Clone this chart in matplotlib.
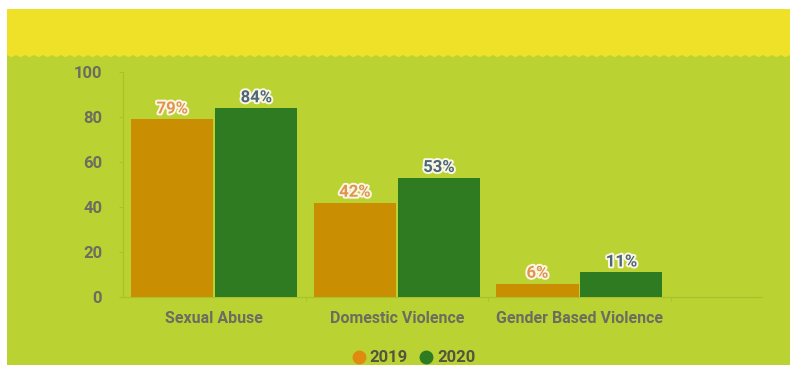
import matplotlib
matplotlib.use("Agg")
import matplotlib.pyplot as plt
import matplotlib.patheffects as pe
from matplotlib.patches import Rectangle, Polygon
from matplotlib.lines import Line2D
import numpy as np

categories = ["Sexual Abuse", "Domestic Violence", "Gender Based Violence"]
years = ["2019", "2020"]
values_2019 = [79, 42, 6]
values_2020 = [84, 53, 11]
y_ticks = [0, 20, 40, 60, 80, 100]

W, H = 790, 367
YELLOW = "#EFE127"
BG_GREEN = "#BAD333"
ORANGE = "#C98E02"
DARK_GREEN = "#2F7B22"
TICK_GREY = "#6C6D5E"
LABEL_2019 = "#E0944E"
LABEL_2020 = "#4C6878"

FAMILY = ["Roboto", "DejaVu Sans"]
FONT = dict(family=FAMILY, weight="bold")

fig = plt.figure(figsize=(W / 100, H / 100), dpi=100, facecolor="white")

def fx(px):
    return px / W

def fy(py):
    return 1 - py / H

# green panel
fig.patches.append(Rectangle((fx(7), fy(365)), fx(790 - 7), (365 - 9) / H,
                             transform=fig.transFigure, facecolor=BG_GREEN,
                             edgecolor="none", zorder=-2))
# yellow header band with a serrated lower edge
xs = np.arange(7, 791, 4.5)
edge = [(x, 55 + (2.2 if i % 2 else 0)) for i, x in enumerate(xs)]
pts = [(7, 9), (790, 9)] + [(790, 55)] + edge[::-1]
pts = [(fx(x), fy(y)) for x, y in pts]
fig.patches.append(Polygon(pts, closed=True, transform=fig.transFigure,
                           facecolor=YELLOW, edgecolor="none", zorder=-1))

ax = fig.add_axes([fx(123), 1 - 297 / H, fx(762 - 123), (297 - 72) / H])
ax.set_facecolor("none")
ax.set_zorder(5)

x = np.arange(len(categories))
w = 0.45
off = 0.23
b1 = ax.bar(x - off, values_2019, w, color=ORANGE, zorder=3)
b2 = ax.bar(x + off, values_2020, w, color=DARK_GREEN, zorder=3)

stroke = [pe.withStroke(linewidth=2.8, foreground="#FBF6E6")]
for bars, vals, col in ((b1, values_2019, LABEL_2019), (b2, values_2020, LABEL_2020)):
    for rect, v in zip(bars, vals):
        ax.annotate(f"{v}%", (rect.get_x() + rect.get_width() / 2, v),
                    xytext=(0, 2.0), textcoords="offset points",
                    ha="center", va="bottom", fontsize=12, color=col,
                    path_effects=stroke, zorder=5, **FONT)

ax.set_xlim(-0.5, 3.0)
ax.set_ylim(0, 100)
ax.set_yticks(y_ticks)
ax.set_xticks(x)
ax.set_xticklabels(categories)
ax.set_xticks([0.5, 1.5, 2.5], minor=True)

for side in ("top", "right"):
    ax.spines[side].set_visible(False)
for side in ("left", "bottom"):
    ax.spines[side].set_color("#A9C22C")
    ax.spines[side].set_linewidth(0.9)

ax.tick_params(axis="y", length=3, color="#A9C22C", pad=12)
ax.tick_params(axis="x", which="major", length=0, pad=10)
ax.tick_params(axis="x", which="minor", length=3, color="#A9C22C")
for lbl in ax.get_yticklabels():
    lbl.set_fontsize(12)
    lbl.set_color(TICK_GREY)
    lbl.set_fontweight("bold")
    lbl.set_family(FAMILY)
for lbl in ax.get_xticklabels():
    lbl.set_fontsize(11.5)
    lbl.set_color(TICK_GREY)
    lbl.set_fontweight("bold")
    lbl.set_family(FAMILY)

handles = [Line2D([], [], marker="o", linestyle="none", markersize=10,
                  markerfacecolor=c, markeredgecolor="none") for c in ("#E08A12", "#2F7B22")]
leg = fig.legend(handles, years, loc="center", bbox_to_anchor=(fx(413), fy(358)),
                 ncol=2, frameon=False, handletextpad=0.15, columnspacing=0.6,
                 handlelength=1.0, prop=dict(size=12, weight="bold", family=FAMILY))
for t in leg.get_texts():
    t.set_color("#55553F")

fig.savefig("out.png", dpi=100, facecolor="white")
